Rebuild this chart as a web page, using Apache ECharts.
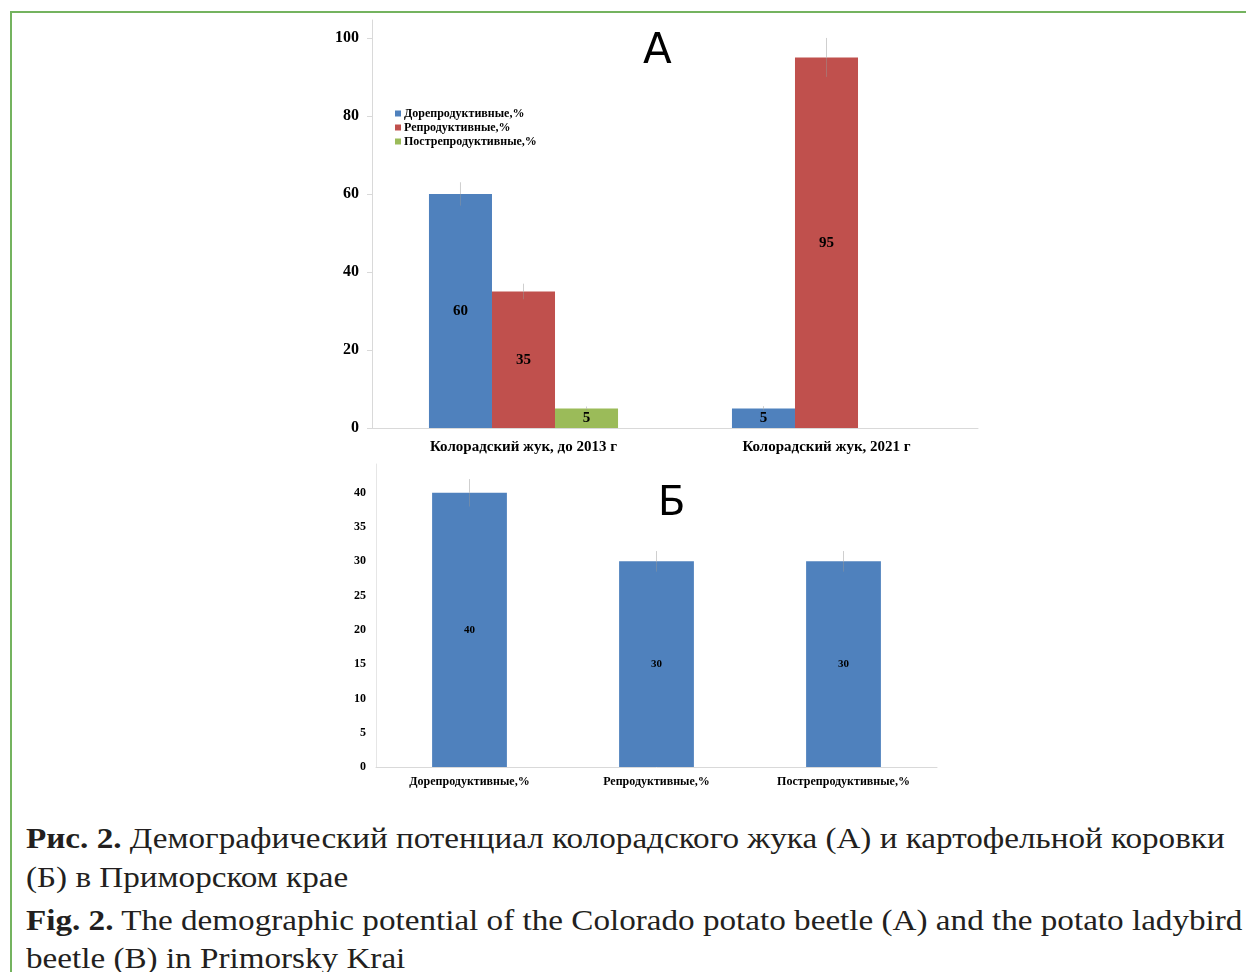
<!DOCTYPE html>
<html>
<head>
<meta charset="utf-8">
<script src="https://cdn.jsdelivr.net/npm/echarts@6/dist/echarts.min.js"></script>
<style>
	body { margin: 0; background: #fff; width: 1246px; height: 972px; overflow: hidden; position: relative; }
	#frame { position: absolute; left: 10px; top: 11px; width: 1300px; height: 1000px; border-top: 2px solid #74b35f; border-left: 2px solid #74b35f; }
	#custom_chart { position: absolute; left: 0; top: 0; width: 1246px; height: 800px; }
	.cap { position: absolute; left: 26px; white-space: nowrap; font-family: 'Liberation Serif', serif; font-size: 30px; line-height: 30px; color: #231f20; transform: scaleX(1.105); transform-origin: 0 0; }
	.cap b { font-weight: bold; }
</style>
</head>
<body>
<div id="frame"></div>
<div id="custom_chart"></div>
<div class="cap" style="top:823px"><b>Рис. 2.</b> Демографический потенциал колорадского жука (А) и картофельной коровки</div>
<div class="cap" style="top:862px">(Б) в Приморском крае</div>
<div class="cap" style="top:905px"><b>Fig. 2.</b> The demographic potential of the Colorado potato beetle (A) and the potato ladybird</div>
<div class="cap" style="top:943px">beetle (B) in Primorsky Krai</div>
<script>
	// Данные, график А (колорадский жук)
	var beetleCategories = ['Колорадский жук, до 2013 г', 'Колорадский жук, 2021 г'];
	var stageNames = ['Дорепродуктивные,%', 'Репродуктивные,%', 'Пострепродуктивные,%'];
	var preReproductive = [60, 5];
	var reproductive = [35, 95];
	var postReproductive = [5, 0];
	var preReproductiveErr = [3, 0.6];
	var reproductiveErr = [2, 5];
	var postReproductiveErr = [0.5, 0];
	var beetleTicks = [0, 20, 40, 60, 80, 100];

	// Данные, график Б (картофельная коровка)
	var ladybirdCategories = ['Дорепродуктивные,%', 'Репродуктивные,%', 'Пострепродуктивные,%'];
	var ladybirdValues = [40, 30, 30];
	var ladybirdErr = [2, 1.5, 1.5];
	var ladybirdTicks = [0, 5, 10, 15, 20, 25, 30, 35, 40];

	var colors = ['#4f81bd', '#c0504d', '#9bbb59'];
	var serif = 'Liberation Serif';
	var topGap = 0.376;
	var bottomGap = 0.6;

	var chart = echarts.init(document.getElementById('custom_chart'));

	function barLabel(size) {
		return {
			show: true,
			position: 'inside',
			color: '#000',
			fontFamily: serif,
			fontWeight: 'bold',
			fontSize: size,
			formatter: function (p) {
				return p.value ? p.value : '';
			}
		};
	}

	// усы погрешностей поверх столбцов
	function errorSeries(k, n, gap, values, errs, axisIndex) {
		var data = values.map(function (v, i) {
			return [i, v, errs[i]];
		});
		return {
			type: 'custom',
			xAxisIndex: axisIndex,
			yAxisIndex: axisIndex,
			silent: true,
			z: 5,
			data: data,
			renderItem: function (params, api) {
				var cat = api.value(0);
				var val = api.value(1);
				var err = api.value(2);
				if (!err) {
					return;
				}
				var bw = api.size([1, 0])[0] * (1 - gap) / n;
				var off = (k - (n - 1) / 2) * bw;
				var hi = api.coord([cat, val + err]);
				var mid = api.coord([cat, val]);
				var lo = api.coord([cat, val - err]);
				return {
					type: 'group',
					children: [{
						type: 'line',
						shape: { x1: hi[0] + off, y1: hi[1], x2: hi[0] + off, y2: mid[1] },
						style: { stroke: '#cfcfcf', lineWidth: 1 }
					}, {
						type: 'line',
						shape: { x1: hi[0] + off, y1: mid[1], x2: hi[0] + off, y2: lo[1] },
						style: { stroke: 'rgba(150,150,150,0.45)', lineWidth: 1 }
					}]
				};
			}
		};
	}

	var topValues = [preReproductive, reproductive, postReproductive];
	var topErrs = [preReproductiveErr, reproductiveErr, postReproductiveErr];

	var series = [];
	topValues.forEach(function (vals, k) {
		series.push({
			name: stageNames[k],
			type: 'bar',
			xAxisIndex: 0,
			yAxisIndex: 0,
			barGap: '0%',
			barCategoryGap: (topGap * 100) + '%',
			itemStyle: { color: colors[k] },
			label: barLabel(15),
			data: vals
		});
	});
	topValues.forEach(function (vals, k) {
		series.push(errorSeries(k, 3, topGap, vals, topErrs[k], 0));
	});
	series.push({
		type: 'bar',
		xAxisIndex: 1,
		yAxisIndex: 1,
		barCategoryGap: (bottomGap * 100) + '%',
		itemStyle: { color: colors[0] },
		label: barLabel(11),
		data: ladybirdValues
	});
	series.push(errorSeries(0, 1, bottomGap, ladybirdValues, ladybirdErr, 1));

	var axisLine = { lineStyle: { color: '#d9d9d9', width: 1 } };

	var option = {
		animation: false,
		grid: [
			{ left: 372, right: 268, top: 20, height: 408 },
			{ left: 376, right: 309, top: 464, height: 303 }
		],
		legend: {
			data: stageNames,
			orient: 'vertical',
			left: 390,
			top: 102,
			itemWidth: 6,
			itemHeight: 6,
			itemGap: 1,
			icon: 'rect',
			textStyle: {
				fontFamily: serif,
				fontWeight: 'bold',
				fontSize: 12,
				lineHeight: 13,
				color: '#000',
				padding: [0, 0, 0, -2]
			}
		},
		xAxis: [{
			type: 'category',
			gridIndex: 0,
			data: beetleCategories,
			axisLine: axisLine,
			axisTick: { show: false },
			axisLabel: { color: '#000', fontFamily: serif, fontWeight: 'bold', fontSize: 15, margin: 12 }
		}, {
			type: 'category',
			gridIndex: 1,
			data: ladybirdCategories,
			axisLine: axisLine,
			axisTick: { show: false },
			axisLabel: { color: '#000', fontFamily: serif, fontWeight: 'bold', fontSize: 12, margin: 9 }
		}],
		yAxis: [{
			type: 'value',
			gridIndex: 0,
			min: 0,
			max: 104.6,
			splitLine: { show: false },
			axisLine: { show: true, lineStyle: { color: '#d9d9d9', width: 1 } },
			axisTick: { show: true, length: 5, customValues: beetleTicks, lineStyle: { color: '#d9d9d9' } },
			axisLabel: { customValues: beetleTicks, color: '#000', fontFamily: serif, fontWeight: 'bold', fontSize: 16, margin: 13 }
		}, {
			type: 'value',
			gridIndex: 1,
			min: 0,
			max: 44.2,
			splitLine: { show: false },
			axisLine: { show: true, lineStyle: { color: '#e6e6e6', width: 1 } },
			axisTick: { show: false, customValues: ladybirdTicks },
			axisLabel: { customValues: ladybirdTicks, color: '#000', fontFamily: serif, fontWeight: 'bold', fontSize: 12, margin: 10 }
		}],
		graphic: [{
			type: 'text',
			left: 643,
			top: 31,
			style: { text: 'А', font: '42px "DejaVu Sans"', fill: '#000' }
		}, {
			type: 'text',
			left: 658,
			top: 485,
			style: { text: 'Б', font: '40px "DejaVu Sans"', fill: '#000' }
		}],
		series: series
	};

	chart.setOption(option);
</script>
</body>
</html>
